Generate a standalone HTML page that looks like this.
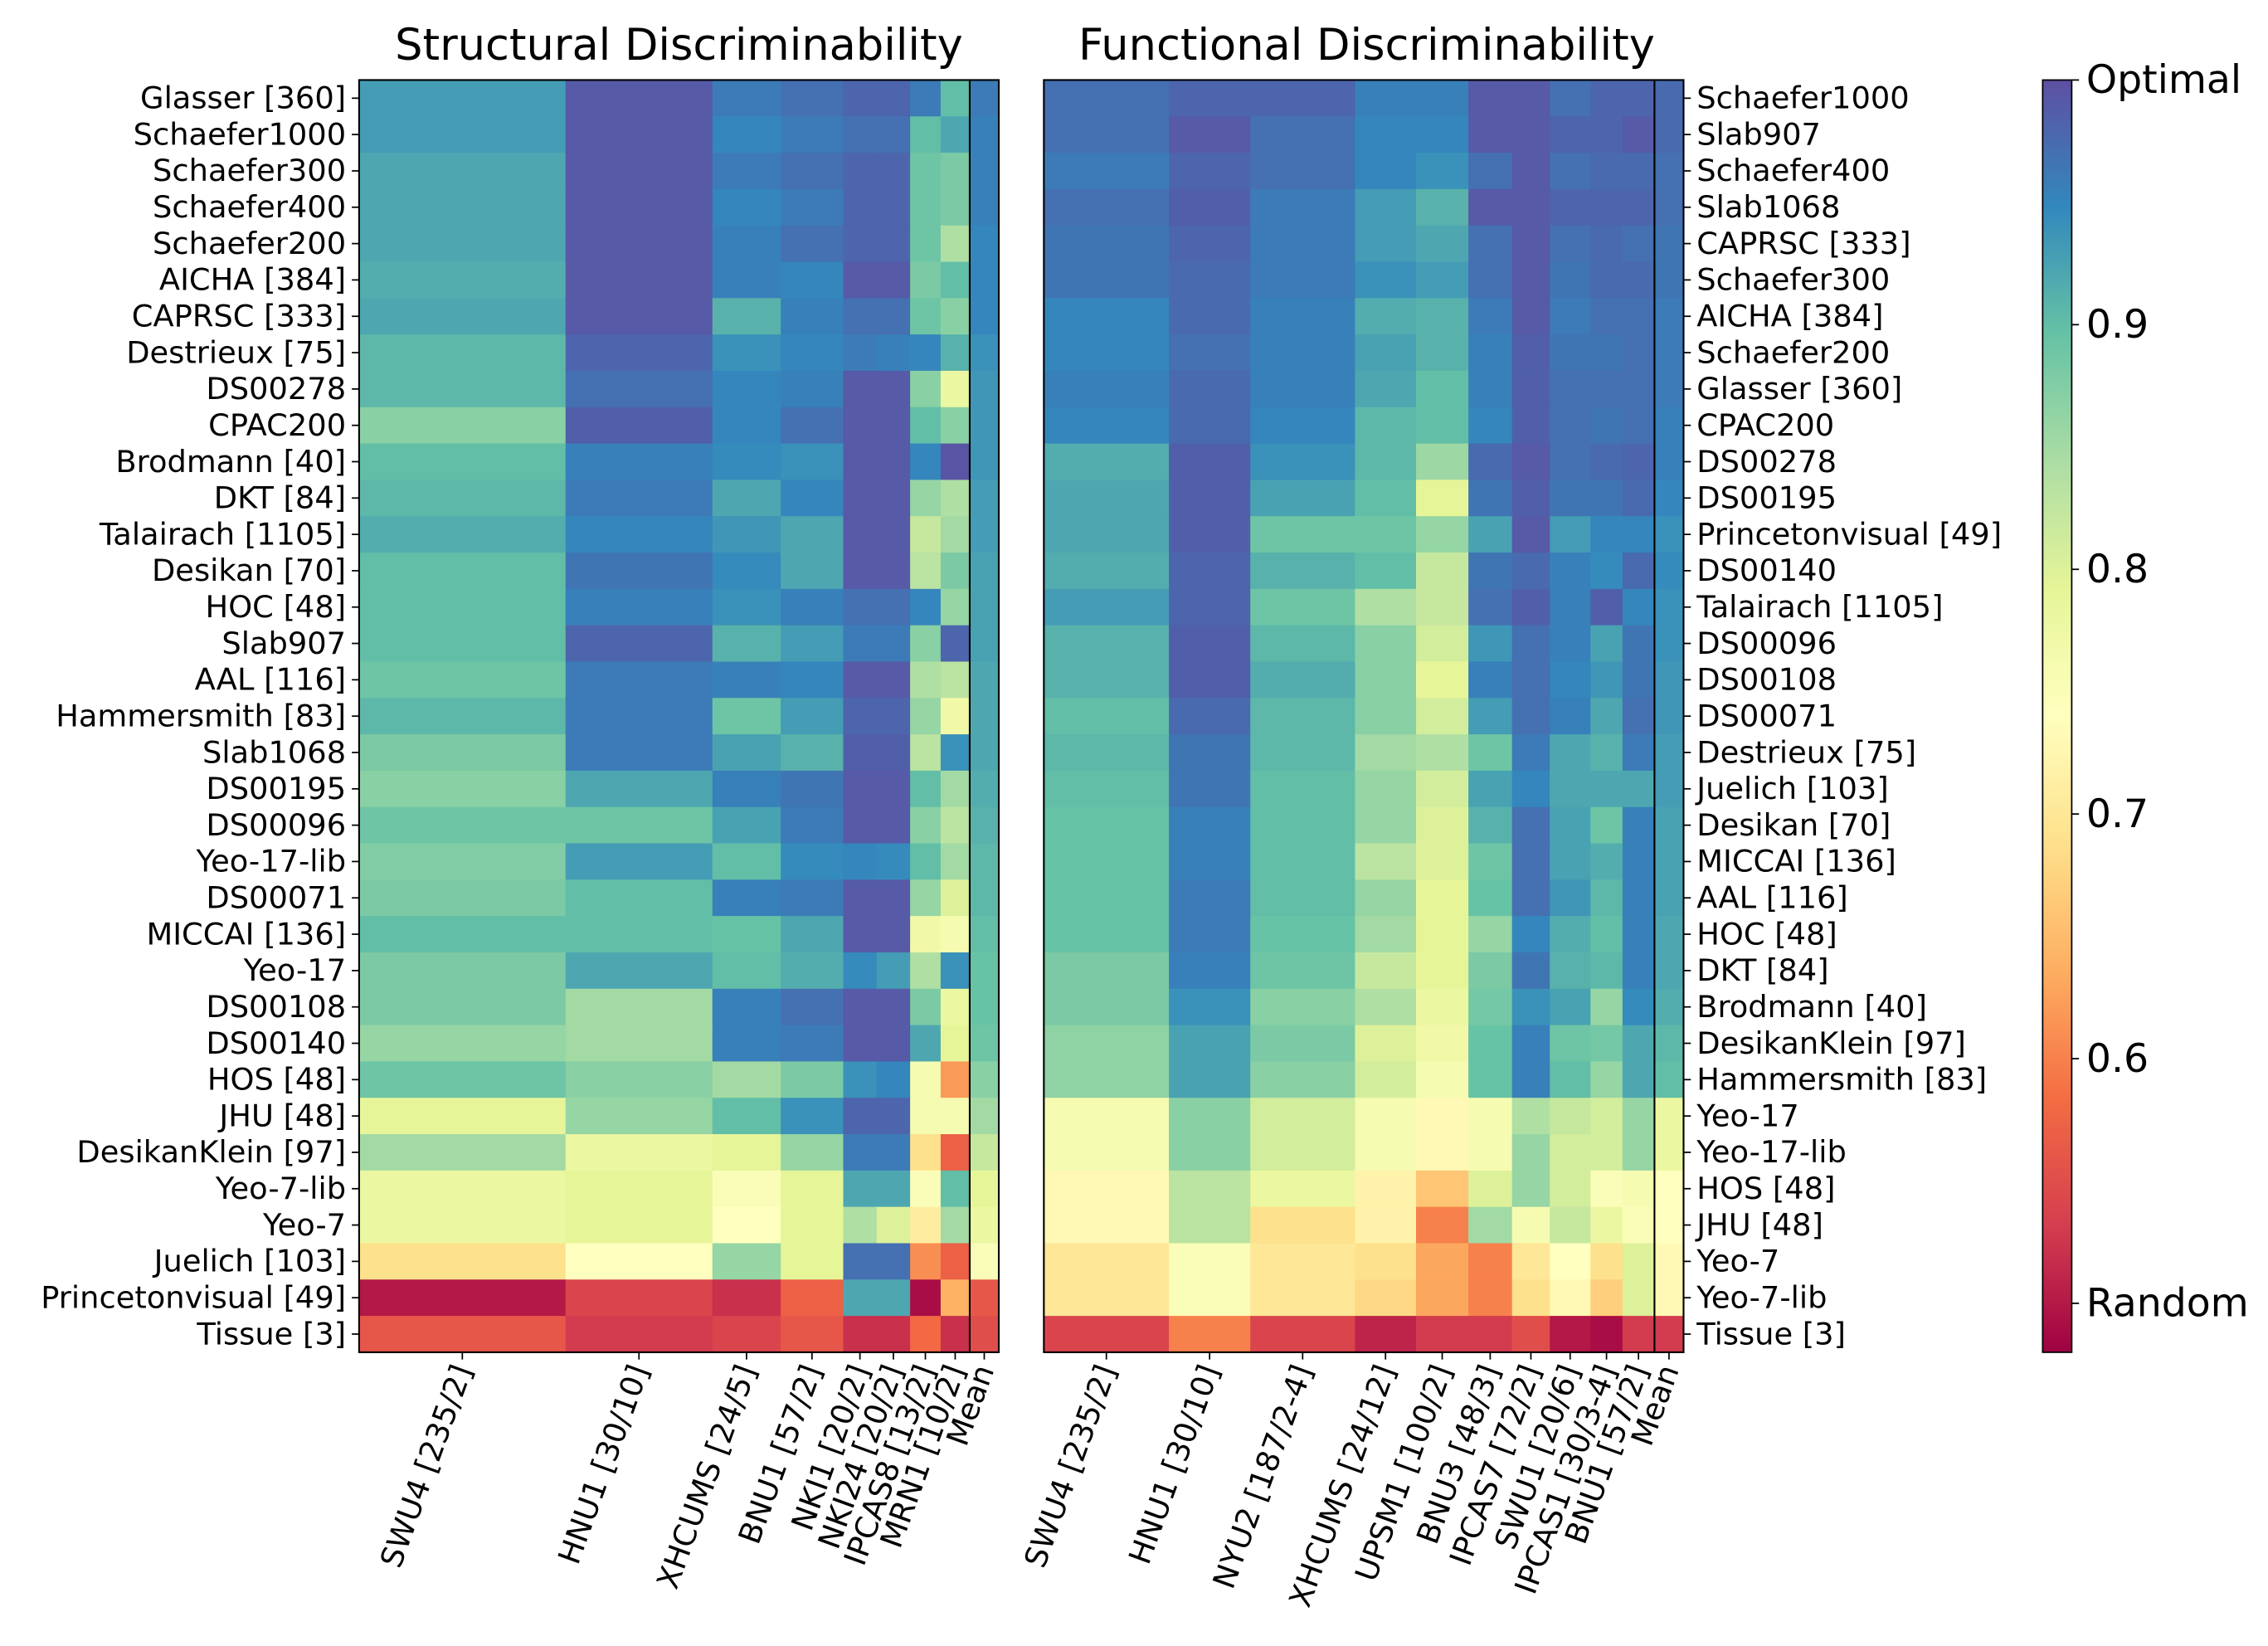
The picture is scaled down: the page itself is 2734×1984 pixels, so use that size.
<!DOCTYPE html>
<html><head><meta charset="utf-8"><style>
html,body{margin:0;padding:0;background:#fff;}
svg{display:block;font-family:"DejaVu Sans","Liberation Sans",sans-serif;}
</style></head><body>
<svg id="chart" width="2734" height="1984" viewBox="0 0 1560 1132" xmlns="http://www.w3.org/2000/svg">
<defs><linearGradient id="cbgrad" x1="0" y1="1" x2="0" y2="0"></linearGradient></defs>
<text x="467" y="41" font-size="30" text-anchor="middle">Structural Discriminability</text>
<text x="940" y="41" font-size="30" text-anchor="middle">Functional Discriminability</text>
<g id="gL"></g>
<g id="gR"></g>
<g id="gC"></g>
</svg>
<script>
const VMIN=0.48, VMAX=1.0;
const spectral=["#9e0142","#d53e4f","#f46d43","#fdae61","#fee08b","#ffffbf","#e6f598","#abdda4","#66c2a5","#3288bd","#5e4fa2"];
const structCols=["SWU4 [235/2]","HNU1 [30/10]","XHCUMS [24/5]","BNU1 [57/2]","NKI1 [20/2]","NKI24 [20/2]","IPCAS8 [13/2]","MRN1 [10/2]","Mean"];
const structEdges=[247,389,490,537,580,603,626,647,667,687];
const structRows=["Glasser [360]","Schaefer1000","Schaefer300","Schaefer400","Schaefer200","AICHA [384]","CAPRSC [333]","Destrieux [75]","DS00278","CPAC200","Brodmann [40]","DKT [84]","Talairach [1105]","Desikan [70]","HOC [48]","Slab907","AAL [116]","Hammersmith [83]","Slab1068","DS00195","DS00096","Yeo-17-lib","DS00071","MICCAI [136]","Yeo-17","DS00108","DS00140","HOS [48]","JHU [48]","DesikanKlein [97]","Yeo-7-lib","Yeo-7","Juelich [103]","Princetonvisual [49]","Tissue [3]"];
const structVals=[
[.93,.99,.96,.97,.98,.98,.96,.9,.96],
[.93,.99,.95,.96,.97,.97,.9,.92,.955],
[.92,.99,.96,.97,.98,.98,.89,.88,.955],
[.92,.99,.95,.96,.98,.98,.89,.88,.955],
[.92,.99,.955,.97,.98,.98,.89,.84,.95],
[.915,.99,.955,.95,.99,.99,.88,.9,.95],
[.92,.99,.91,.955,.97,.97,.89,.87,.95],
[.905,.98,.94,.95,.96,.955,.95,.91,.94],
[.905,.97,.95,.955,.99,.99,.87,.78,.935],
[.87,.985,.95,.97,.99,.99,.9,.87,.935],
[.9,.955,.945,.94,.99,.99,.95,.995,.935],
[.905,.96,.92,.95,.99,.99,.86,.84,.93],
[.915,.95,.935,.92,.99,.99,.82,.85,.93],
[.9,.965,.945,.92,.99,.99,.83,.88,.925],
[.9,.955,.94,.955,.97,.97,.95,.86,.925],
[.9,.98,.91,.93,.96,.96,.87,.98,.925],
[.89,.96,.955,.95,.99,.99,.84,.83,.92],
[.905,.96,.89,.93,.98,.98,.86,.77,.92],
[.88,.96,.925,.91,.985,.985,.83,.94,.92],
[.87,.92,.955,.965,.99,.99,.9,.85,.915],
[.89,.89,.925,.96,.99,.99,.87,.83,.91],
[.875,.93,.9,.945,.95,.945,.9,.85,.905],
[.88,.9,.955,.96,.99,.99,.86,.8,.905],
[.9,.9,.895,.92,.99,.99,.77,.76,.9],
[.88,.92,.9,.915,.945,.93,.84,.94,.895],
[.88,.85,.955,.97,.99,.99,.88,.78,.895],
[.86,.85,.955,.96,.99,.99,.92,.79,.89],
[.89,.87,.85,.88,.94,.95,.76,.62,.87],
[.79,.86,.9,.94,.98,.98,.76,.76,.85],
[.85,.78,.79,.86,.96,.96,.69,.57,.82],
[.78,.79,.75,.79,.92,.92,.75,.9,.79],
[.78,.79,.74,.79,.84,.8,.71,.85,.78],
[.69,.74,.86,.79,.97,.97,.61,.57,.75],
[.5,.54,.52,.57,.92,.92,.49,.64,.56],
[.56,.53,.54,.56,.52,.52,.58,.52,.55]];
const funcCols=["SWU4 [235/2]","HNU1 [30/10]","NYU2 [187/2-4]","XHCUMS [24/12]","UPSM1 [100/2]","BNU3 [48/3]","IPCAS7 [72/2]","SWU1 [20/6]","IPCAS1 [30/3-4]","BNU1 [57/2]","Mean"];
const funcEdges=[718,804,860,932,974,1010,1040,1066,1094,1116,1138,1158];
const funcRows=["Schaefer1000","Slab907","Schaefer400","Slab1068","CAPRSC [333]","Schaefer300","AICHA [384]","Schaefer200","Glasser [360]","CPAC200","DS00278","DS00195","Princetonvisual [49]","DS00140","Talairach [1105]","DS00096","DS00108","DS00071","Destrieux [75]","Juelich [103]","Desikan [70]","MICCAI [136]","AAL [116]","HOC [48]","DKT [84]","Brodmann [40]","DesikanKlein [97]","Hammersmith [83]","Yeo-17","Yeo-17-lib","HOS [48]","JHU [48]","Yeo-7","Yeo-7-lib","Tissue [3]"];
const funcVals=[
[.97,.98,.98,.955,.955,.99,.99,.97,.98,.98,.975],
[.97,.99,.97,.95,.95,.99,.99,.98,.98,.99,.975],
[.96,.98,.97,.95,.94,.97,.99,.97,.975,.975,.97],
[.97,.985,.96,.93,.91,.99,.99,.98,.98,.98,.97],
[.965,.98,.96,.93,.92,.97,.99,.97,.975,.97,.965],
[.965,.975,.96,.94,.93,.97,.99,.965,.975,.975,.965],
[.95,.975,.955,.915,.91,.96,.99,.96,.97,.97,.96],
[.95,.97,.955,.925,.91,.955,.985,.965,.965,.97,.96],
[.955,.975,.955,.92,.9,.955,.985,.97,.97,.97,.96],
[.95,.975,.95,.905,.9,.95,.985,.97,.965,.97,.955],
[.915,.985,.94,.905,.855,.975,.99,.97,.975,.98,.955],
[.92,.985,.925,.9,.79,.965,.985,.965,.965,.975,.95],
[.92,.985,.89,.89,.86,.925,.99,.93,.95,.95,.94],
[.915,.98,.91,.9,.82,.965,.975,.955,.945,.975,.945],
[.93,.98,.89,.84,.82,.97,.985,.955,.985,.95,.94],
[.91,.985,.905,.87,.81,.935,.97,.955,.925,.965,.94],
[.91,.985,.915,.87,.79,.955,.97,.95,.935,.965,.935],
[.9,.975,.905,.87,.81,.93,.97,.955,.92,.97,.935],
[.905,.965,.905,.85,.84,.89,.96,.92,.91,.96,.93],
[.9,.965,.9,.86,.81,.925,.95,.92,.92,.92,.93],
[.895,.955,.9,.86,.8,.91,.97,.925,.89,.955,.925],
[.895,.955,.9,.83,.8,.89,.97,.925,.915,.955,.925],
[.895,.96,.9,.86,.79,.895,.97,.935,.905,.955,.925],
[.895,.96,.895,.85,.79,.86,.95,.915,.9,.955,.92],
[.88,.955,.89,.82,.79,.88,.965,.91,.905,.955,.92],
[.88,.94,.87,.84,.78,.885,.94,.925,.86,.945,.915],
[.865,.925,.88,.8,.77,.895,.955,.89,.885,.92,.905],
[.865,.925,.87,.81,.76,.895,.955,.9,.86,.92,.9],
[.76,.87,.81,.76,.73,.76,.84,.82,.81,.86,.78],
[.76,.87,.81,.76,.73,.76,.86,.81,.81,.86,.78],
[.73,.83,.78,.72,.66,.8,.86,.81,.75,.76,.74],
[.73,.83,.69,.72,.6,.85,.76,.82,.78,.75,.74],
[.7,.75,.7,.69,.63,.6,.7,.74,.69,.8,.73],
[.7,.75,.7,.68,.63,.6,.69,.73,.67,.8,.73],
[.54,.6,.54,.51,.53,.53,.55,.5,.49,.53,.53]];
const cbTicks=[1.0,0.9,0.8,0.7,0.6,0.5];
const cbTickLabels=["Optimal","0.9","0.8","0.7","0.6","Random"];

const NS="http://www.w3.org/2000/svg";
const TOP=55, BOT=930;
function hex(h){return [1,3,5].map(i=>parseInt(h.substr(i,2),16));}
function color(v){
  let t=(v-VMIN)/(VMAX-VMIN); t=Math.max(0,Math.min(1,t));
  const p=t*10, i=Math.min(9,Math.floor(p)), f=p-i;
  const a=hex(spectral[i]), b=hex(spectral[i+1]);
  return "rgb("+a.map((x,k)=>Math.round(x+(b[k]-x)*f)).join(",")+")";
}
function el(tag,attrs,parent,txt){const e=document.createElementNS(NS,tag);for(const k in attrs)e.setAttribute(k,attrs[k]);if(txt!==undefined)e.textContent=txt;parent.appendChild(e);return e;}
function yScale(i,n){return TOP+i*(BOT-TOP)/n;}

function heatmap(g,rows,cols,edges,vals,labelSide,name){
  const n=rows.length, rh=(BOT-TOP)/n;
  vals.forEach((row,r)=>row.forEach((v,c)=>{
    const x0=edges[c], x1=edges[c+1], y=yScale(r,n);
    const rc=el('rect',{x:x0,y:y,width:x1-x0+0.4,height:rh+0.4,fill:color(v)},g);
    
    
  }));
  const L=edges[0], R=edges[edges.length-1], meanX=edges[edges.length-2];
  el('line',{x1:meanX,x2:meanX,y1:TOP,y2:BOT,stroke:'#000','stroke-width':1.2},g);
  el('rect',{x:L,y:TOP,width:R-L,height:BOT-TOP,fill:'none',stroke:'#000','stroke-width':1.2},g);
  rows.forEach((lab,r)=>{
    const y=yScale(r+0.5,n);
    if(labelSide==='left'){
      el('line',{x1:L-5,x2:L,y1:y,y2:y,stroke:'#000','stroke-width':1},g);
      const t=el('text',{x:L-9,y:y+7,'font-size':21,'text-anchor':'end'},g,lab);
      
      
    } else {
      el('line',{x1:R,x2:R+5,y1:y,y2:y,stroke:'#000','stroke-width':1},g);
      const t=el('text',{x:R+9,y:y+7,'font-size':21,'text-anchor':'start'},g,lab);
      
      
    }
  });
  cols.forEach((lab,c)=>{
    const x=(edges[c]+edges[c+1])/2;
    el('line',{x1:x,x2:x,y1:BOT,y2:BOT+5,stroke:'#000','stroke-width':1},g);
    const t=el('text',{x:0,y:0,'font-size':21,'text-anchor':'end',transform:`translate(${x+7},${BOT+12}) rotate(-70)`},g,lab);
    
    
  });
}
heatmap(document.getElementById('gL'),structRows,structCols,structEdges,structVals,'left','structural');
heatmap(document.getElementById('gR'),funcRows,funcCols,funcEdges,funcVals,'right','functional');

const grad=document.getElementById('cbgrad');
for(let i=0;i<=40;i++){const v=VMIN+(VMAX-VMIN)*i/40;el('stop',{offset:(i/40),'stop-color':color(v)},grad);}
const gC=document.getElementById('gC');
const CX=1405, CW=20;
function cbY(v){return BOT-(v-VMIN)/(VMAX-VMIN)*(BOT-TOP);}
el('rect',{x:CX,y:TOP,width:CW,height:BOT-TOP,fill:'url(#cbgrad)',stroke:'#000','stroke-width':1},gC);
cbTicks.forEach((v,i)=>{
  const y=cbY(v);
  el('line',{x1:CX+CW,x2:CX+CW+5,y1:y,y2:y,stroke:'#000','stroke-width':1},gC);
  const t=el('text',{x:CX+CW+10,y:y+9,'font-size':27},gC,cbTickLabels[i]);
  
  
});
</script>
</body></html>
